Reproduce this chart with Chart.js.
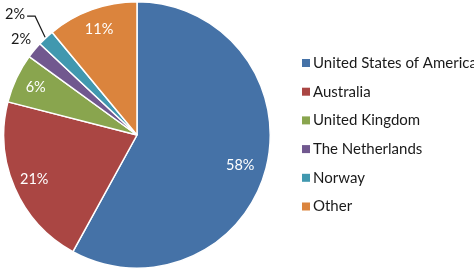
<!DOCTYPE html>
<html>
<head>
<meta charset="utf-8">
<script src="https://cdn.jsdelivr.net/npm/chart.js@4.4.1/dist/chart.umd.min.js"></script>
<style>
  html, body { margin: 0; padding: 0; background: #fff; }
  #wrap { width: 474px; height: 274px; position: relative; }
</style>
</head>
<body>
<div id="wrap"><canvas id="chart" width="474" height="274"></canvas></div>
<script>
const countries = ['United States of America', 'Australia', 'United Kingdom', 'The Netherlands', 'Norway', 'Other'];
const shares = [58, 21, 6, 2, 2, 11];
const colors = ['#4572A7', '#AA4643', '#89A54E', '#71588F', '#4198AF', '#DB843D'];

const LABEL_FONT = '14.5px Lato, "Open Sans", sans-serif';
const LEGEND_FONT = '15px Lato, "Open Sans", sans-serif';

// labels on/around the slices + legend drawn by hand (reference legend runs off the edge)
const piePlugin = {
  id: 'pieExtras',
  afterDatasetsDraw(chart) {
    const ctx = chart.ctx;
    const arcs = chart.getDatasetMeta(0).data;
    ctx.save();
    ctx.font = LABEL_FONT;
    ctx.textBaseline = 'middle';
    let smallCount = 0;
    arcs.forEach((arc, i) => {
      const mid = (arc.startAngle + arc.endAngle) / 2;
      const r = arc.outerRadius;
      const text = shares[i] + '%';
      if (shares[i] >= 5) {
        const k = i === 0 ? 0.8 : 0.84;
        ctx.fillStyle = '#fff';
        ctx.textAlign = 'center';
        ctx.fillText(text, arc.x + Math.cos(mid) * r * k, arc.y + Math.sin(mid) * r * k + (i === 0 ? 4 : 0));
      } else {
        ctx.fillStyle = '#1a1a1a';
        if (smallCount === 0) {
          ctx.textAlign = 'center';
          ctx.fillText(text, arc.x + Math.cos(mid) * r * 1.13, arc.y + Math.sin(mid) * r * 1.13);
        } else {
          // second small slice gets a leader line
          const ex = arc.x + Math.cos(mid) * (r + 1);
          const ey = arc.y + Math.sin(mid) * (r + 1);
          ctx.strokeStyle = '#1a1a1a';
          ctx.lineWidth = 1.2;
          ctx.beginPath();
          ctx.moveTo(ex, ey);
          ctx.lineTo(ex - 10, ey - 21);
          ctx.lineTo(ex - 18, ey - 21);
          ctx.stroke();
          ctx.textAlign = 'right';
          ctx.fillText(text, ex - 20, ey - 23);
        }
        smallCount++;
      }
    });

    // legend
    ctx.font = LEGEND_FONT;
    ctx.textAlign = 'left';
    countries.forEach((name, i) => {
      const y = 63 + i * 28.7;
      ctx.fillStyle = colors[i];
      ctx.fillRect(302, y - 4, 8, 8);
      ctx.fillStyle = '#1a1a1a';
      ctx.fillText(name, 313, y);
    });
    ctx.restore();
  }
};

new Chart(document.getElementById('chart'), {
  type: 'pie',
  data: {
    labels: countries,
    datasets: [{
      data: shares,
      backgroundColor: colors,
      borderColor: '#fff',
      borderWidth: 1.5
    }]
  },
  options: {
    responsive: false,
    animation: false,
    layout: { padding: { left: 3, right: 203, top: 1, bottom: 5 } },
    plugins: {
      legend: { display: false },
      tooltip: { enabled: false }
    }
  },
  plugins: [piePlugin]
});
</script>
</body>
</html>
